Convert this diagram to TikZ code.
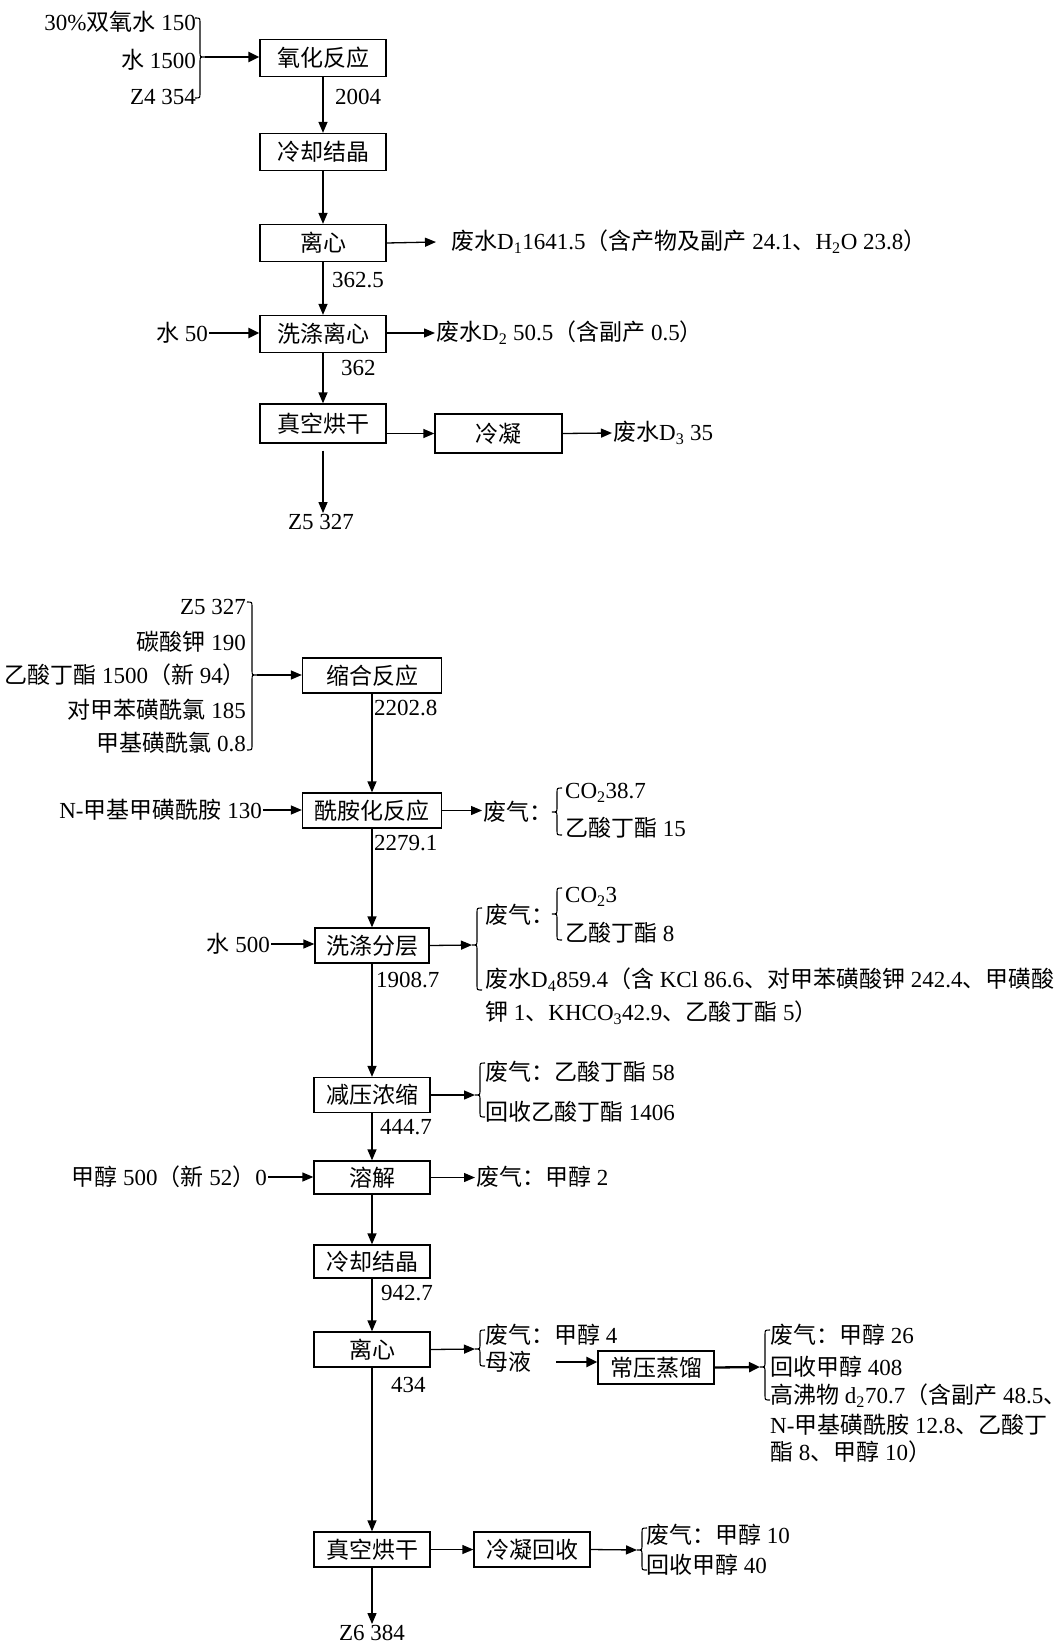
\documentclass[tikz,border=0pt]{standalone}
\usepackage{fontspec}
\setmainfont{Liberation Serif}
\newfontfamily\cjkfont{Noto Sans CJK SC}
\usetikzlibrary{arrows.meta,calc}
\XeTeXinterchartokenstate=1
\newXeTeXintercharclass\cjkclass
\newcount\mycnt
\mycnt="3000
\loop\ifnum\mycnt<"A000 \XeTeXcharclass\mycnt=\cjkclass \advance\mycnt by 1 \repeat
\mycnt="FF00
\loop\ifnum\mycnt<"FFF0 \XeTeXcharclass\mycnt=\cjkclass \advance\mycnt by 1 \repeat
\XeTeXinterchartoks 0 \cjkclass = {\begingroup\cjkfont}
\XeTeXinterchartoks 4095 \cjkclass = {\begingroup\cjkfont}
\XeTeXinterchartoks \cjkclass 0 = {\endgroup}
\XeTeXinterchartoks \cjkclass 4095 = {\endgroup}
\newcommand\fs{\fontsize{23}{27}\selectfont}
\tikzset{
  box/.style={draw, line width=1.3pt, inner sep=0pt, minimum height=35pt, minimum width=116pt, font=\fs},
  wbox/.style={box, minimum width=126pt, minimum height=37pt},
  lbl/.style={inner sep=1pt, font=\fs},
  arr/.style={line width=1.3pt, -{Triangle[length=11pt,width=9pt]}},
  tarr/.style={line width=2.3pt, -{Triangle[length=11pt,width=10pt]}},
  brl/.style={line width=1.1pt},
}
\newcommand\lbr[5]{%
 \draw[brl] (#2+5,#3) .. controls (#2,#3) .. (#2,#3+5) -- (#2,#4-5) .. controls (#2,#4) .. (#2-5,#4) .. controls (#2,#4) .. (#2,#4+5) -- (#2,#5-5) .. controls (#2,#5) .. (#2+5,#5);
 \coordinate (#1) at (#2-5,#4);}
\newcommand\rbr[5]{%
 \draw[brl] (#2-5,#3) .. controls (#2,#3) .. (#2,#3+5) -- (#2,#4-5) .. controls (#2,#4) .. (#2+5,#4) .. controls (#2,#4) .. (#2,#4+5) -- (#2,#5-5) .. controls (#2,#5) .. (#2-5,#5);
 \coordinate (#1) at (#2+5,#4);}
\begin{document}
\begin{tikzpicture}[x=1pt,y=-1pt]
\useasboundingbox (0,0) rectangle (1064,1645);
% ---------- top part ----------
\node[lbl,anchor=east] (a1) at (197,22) {30\%双氧水 150};
\node[lbl,anchor=east] (a2) at (197,60) {水 1500};
\node[lbl,anchor=east] (a3) at (197,97) {Z4 354};
\rbr{bt1}{200}{18}{57}{98}
\node[wbox] (ox) at (323,58) {氧化反应};
\draw[tarr] (bt1) -- (bt1 -| ox.west);
\node[lbl,anchor=west] (m1) at (334,97) {2004};
\node[wbox] (cc1) at (323,152) {冷却结晶};
\draw[arr] (ox.south) -- (cc1.north);
\node[wbox] (lx1) at (323,243) {离心};
\draw[arr] (cc1.south) -- (lx1.north);
\node[lbl,anchor=west] (w1) at (450,242) {废水D\textsubscript{1}1641.5（含产物及副产 24.1、H\textsubscript{2}O 23.8）};
\draw[arr] (lx1.east) -- ([xshift=-14pt]w1.west);
\node[lbl,anchor=west] (m2) at (331,280) {362.5};
\node[wbox] (xd) at (323,334) {洗涤离心};
\draw[arr] (lx1.south) -- (xd.north);
\node[lbl,anchor=east] (a4) at (209,333) {水 50};
\draw[tarr] (a4.east) -- (a4.east -| xd.west);
\node[lbl,anchor=west] (w2) at (435,333) {废水D\textsubscript{2} 50.5（含副产 0.5）};
\draw[arr] (xd.east |- w2) -- (w2.west);
\node[lbl,anchor=west] (m3) at (340,368) {362};
\node[wbox, minimum height=39pt] (zk1) at (323,423.5) {真空烘干};
\draw[arr] (xd.south) -- (zk1.north);
\node[wbox, minimum width=127pt, minimum height=39pt] (ln) at (498.5,433.5) {冷凝};
\node[lbl,anchor=west] (w3) at (612,433) {废水D\textsubscript{3} 35};
\draw[arr] (zk1.east |- ln) -- (ln.west);
\draw[arr] (ln.east) -- (w3.west);
\node[lbl] (z5) at (321,522) {Z5 327};
\draw[arr] ([yshift=-7pt]zk1.south) -- (zk1.south |- z5.north);
% ---------- bottom part ----------
\node[lbl,anchor=east] (b1) at (247,607) {Z5 327};
\node[lbl,anchor=east] (b2) at (247,642) {碳酸钾 190};
\node[lbl,anchor=east] (b3) at (247,675) {乙酸丁酯 1500（新 94）};
\node[lbl,anchor=east] (b4) at (247,710) {对甲苯磺酰氯 185};
\node[lbl,anchor=east] (b5) at (247,743) {甲基磺酰氯 0.8};
\rbr{bt2}{252}{602}{675}{750}
\node[box, minimum width=139pt] (sh) at (372,675.5) {缩合反应};
\draw[arr] (bt2) -- (bt2 -| sh.west);
\node[lbl,anchor=west] (m4) at (373,708) {2202.8};
\node[box, minimum width=139pt] (xa) at (372,810.5) {酰胺化反应};
\draw[arr] (sh.south) -- (xa.north);
\node[lbl,anchor=east] (c1) at (263,810) {N-甲基甲磺酰胺 130};
\draw[arr] (c1.east) -- (c1.east -| xa.west);
\node[lbl,anchor=west] (g1) at (482,812) {废气：};
\draw[arr] (xa.east) -- (xa.east -| g1.west);
\lbr{bb1}{557}{788}{812}{835}
\node[lbl,anchor=west] (g1a) at (564,793) {CO\textsubscript{2}38.7};
\node[lbl,anchor=west] (g1b) at (564,828) {乙酸丁酯 15};
\node[lbl,anchor=west] (m5) at (373,843) {2279.1};
\node[box, minimum width=114pt] (xf) at (372,945.5) {洗涤分层};
\draw[arr] (xa.south) -- (xf.north);
\node[lbl,anchor=east] (c2) at (271,944) {水 500};
\draw[arr] (c2.east) -- (c2.east -| xf.west);
\lbr{bb2}{477}{908}{945}{990}
\draw[arr] (xf.east) -- (bb2);
\node[lbl,anchor=west] (g2) at (484,915) {废气：};
\lbr{bb3}{557}{888}{914}{940}
\node[lbl,anchor=west] (g2a) at (564,897) {CO\textsubscript{2}3};
\node[lbl,anchor=west] (g2b) at (564,933) {乙酸丁酯 8};
\node[lbl,anchor=west] (w4a) at (484,980) {废水D\textsubscript{4}859.4（含 KCl 86.6、对甲苯磺酸钾 242.4、甲磺酸};
\node[lbl,anchor=west] (w4b) at (484,1013) {钾 1、KHCO\textsubscript{3}42.9、乙酸丁酯 5）};
\node[lbl,anchor=west] (m6) at (375,980) {1908.7};
\node[box] (jy) at (372,1095) {减压浓缩};
\draw[arr] (xf.south) -- (jy.north);
\lbr{bb4}{480}{1063}{1095}{1117}
\draw[arr] (jy.east) -- (bb4);
\node[lbl,anchor=west] (g3a) at (484,1072) {废气：乙酸丁酯 58};
\node[lbl,anchor=west] (g3b) at (484,1112) {回收乙酸丁酯 1406};
\node[lbl,anchor=west] (m7) at (379,1127) {444.7};
\node[box, minimum height=33pt] (rj) at (372,1177.5) {溶解};
\draw[arr] (jy.south) -- (rj.north);
\node[lbl,anchor=east] (c3) at (268,1177) {甲醇 500（新 52）0};
\draw[arr] (c3.east) -- (c3.east -| rj.west);
\node[lbl,anchor=west] (g4) at (475,1177) {废气：甲醇 2};
\draw[arr] (rj.east) -- (rj.east -| g4.west);
\node[box, minimum height=33pt] (cc2) at (372,1261.5) {冷却结晶};
\draw[arr] (rj.south) -- (cc2.north);
\node[lbl,anchor=west] (m8) at (380,1293) {942.7};
\node[box] (lx2) at (372,1349.5) {离心};
\draw[arr] (cc2.south) -- (lx2.north);
\lbr{bb5}{480}{1330}{1349}{1366}
\draw[arr] (lx2.east) -- (bb5);
\node[lbl,anchor=west] (g5a) at (484,1335) {废气：甲醇 4};
\node[lbl,anchor=west] (g5b) at (484,1362) {母液};
\node[box, minimum height=33pt] (cy) at (656,1367.5) {常压蒸馏};
\draw[tarr] ([xshift=24pt]g5b.east) -- (g5b.east -| cy.west);
\lbr{bb6}{765}{1330}{1367}{1400}
\draw[tarr] (cy.east) -- (bb6);
\node[lbl,anchor=west] (g6a) at (769,1335) {废气：甲醇 26};
\node[lbl,anchor=west] (g6b) at (769,1367) {回收甲醇 408};
\node[lbl,anchor=west] (g6c) at (769,1396) {高沸物 d\textsubscript{2}70.7（含副产 48.5、};
\node[lbl,anchor=west] (g6d) at (769,1425) {N-甲基磺酰胺 12.8、乙酸丁};
\node[lbl,anchor=west] (g6e) at (769,1452) {酯 8、甲醇 10）};
\node[lbl,anchor=west] (m9) at (390,1385) {434};
\node[box] (zk2) at (372,1549.5) {真空烘干};
\draw[arr] (lx2.south) -- (zk2.north);
\node[box] (lh) at (532,1549.5) {冷凝回收};
\draw[arr] (zk2.east) -- (lh.west);
\lbr{bb7}{642}{1528}{1550}{1570}
\draw[arr] (lh.east) -- (bb7);
\node[lbl,anchor=west] (g7a) at (645,1535) {废气：甲醇 10};
\node[lbl,anchor=west] (g7b) at (645,1565) {回收甲醇 40};
\node[lbl] (z6) at (372,1633) {Z6 384};
\draw[arr] (zk2.south) -- (z6.north);
\end{tikzpicture}
\end{document}
